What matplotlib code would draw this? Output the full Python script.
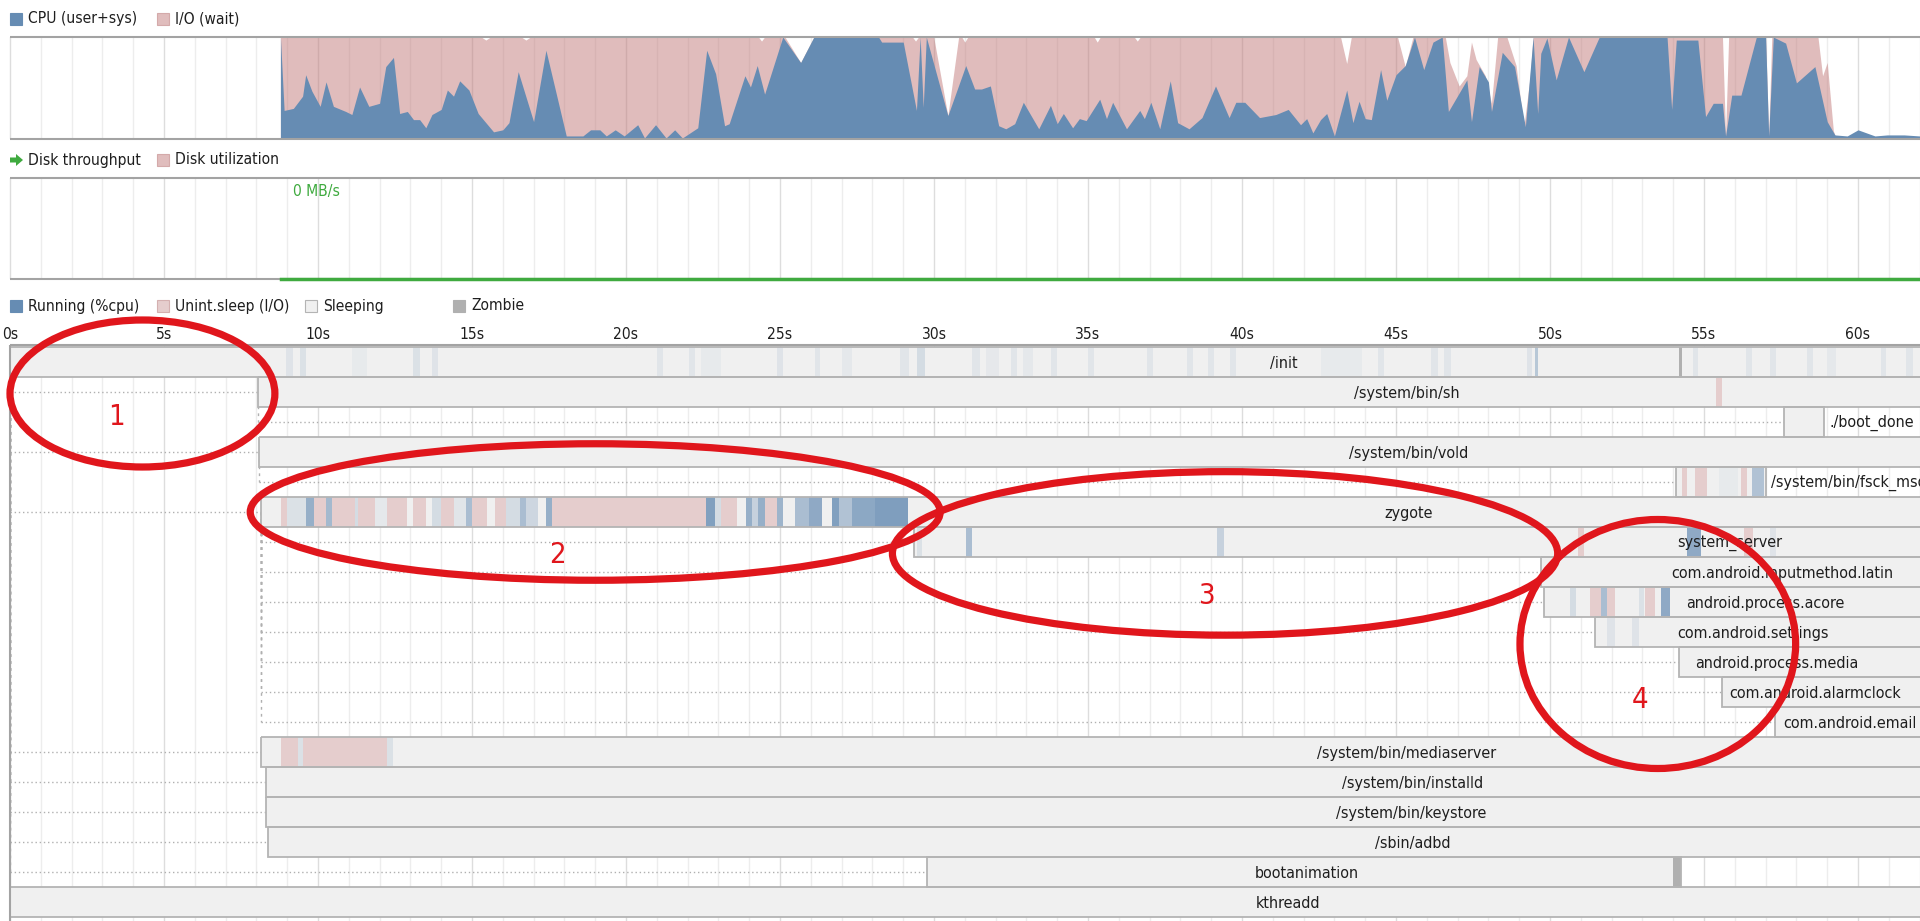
import numpy as np
import matplotlib
matplotlib.use("Agg")
import matplotlib.pyplot as plt
from matplotlib import font_manager
from matplotlib.patches import Rectangle, Ellipse, Polygon

# CPU (user+sys) in percent
cpu_t = [8.78, 8.9, 9.2, 9.5, 9.6, 9.8, 10.07, 10.26, 10.5, 10.9, 11.1, 11.35, 11.65, 12.0, 12.2, 12.45, 12.65, 12.9,
         13.1, 13.3, 13.5, 13.7, 14.0, 14.2, 14.4, 14.6, 14.9, 15.2, 15.7, 16.0, 16.2, 16.5, 17.0, 17.4,
         18.06, 18.6, 18.85, 19.15, 19.36, 19.65, 19.94, 20.38, 20.6, 20.96, 21.3, 21.58, 21.83, 22.33,
         22.62, 22.91, 23.2, 23.35, 23.86, 24.04, 24.26, 24.5, 25.09, 25.67, 26.1, 28.2, 28.3, 29.0, 29.43, 29.55, 29.65, 29.75,
         30.45, 31.03, 31.32, 31.54, 31.83, 32.1, 32.33, 32.62, 32.9, 33.4, 33.78, 34.0, 34.2, 34.5, 34.72, 34.94, 35.38, 35.6,
         35.8, 36.25, 36.68, 36.83,
         37.04, 37.33, 37.67, 37.91, 38.28, 38.7, 39.14, 39.58, 39.8, 40.09, 40.57, 41.1,
         41.5, 41.9, 42.1, 42.3, 42.55, 42.75, 43.0, 43.4, 43.6, 43.8, 44.0, 44.2, 44.5, 44.7, 45.0, 45.3, 45.6, 45.9, 46.2, 46.5,
         46.7, 47.3, 47.45, 47.7, 48.0, 48.1, 48.45, 48.85, 49.2, 49.45, 49.6, 49.7, 49.9, 50.2, 50.6, 51.1, 51.6, 53.8,
         53.95, 54.1, 54.8, 55.05, 55.3, 55.6, 55.7, 55.9, 56.2, 56.7, 57.0, 57.1, 57.25, 57.65, 58.0, 58.6, 59.0, 59.25,
         59.65, 60.0, 60.55, 60.95, 61.5, 62.0]
cpu_pct = [100, 28, 30, 42, 63, 47, 32, 56, 32, 27, 24, 51, 32, 35, 71, 80, 25, 27,
           19, 19, 11, 24, 29, 48, 42, 57, 48, 25, 7, 9, 16, 66, 17, 87,
           3, 3, 9, 9, 3, 9, 3, 14, 1, 14, 1, 9, 1, 11,
           87, 64, 13, 15, 62, 51, 72, 44, 100, 75, 100, 100, 95, 95, 28, 100, 31, 100,
           23, 72, 49, 49, 52, 13, 10, 15, 36, 10, 33, 15, 25, 11, 20, 18, 39, 20,
           36, 10, 28, 20,
           36, 10, 57, 16, 10, 21, 52, 21, 36, 36, 21, 24,
           29, 14, 20, 6, 19, 25, 3, 48, 16, 37, 20, 19, 68, 38, 63, 72, 100, 68, 95, 100,
           27, 58, 17, 71, 56, 27, 85, 71, 12, 100, 25, 84, 99, 58, 100, 66, 100, 100,
           29, 97, 97, 22, 35, 35, 3, 43, 43, 100, 100, 3, 100, 94, 55, 71, 17, 4,
           3, 9, 3, 4, 4, 3]

# CPU + I/O wait in percent
busy_t = [8.78, 15.3, 15.45, 15.6, 16.6, 16.75, 16.9, 24.3, 24.4, 24.5, 25.16, 25.67, 26.1,
          29.3, 29.4, 29.5, 29.99, 30.45, 30.8, 30.9, 31.0, 31.1, 35.2, 35.3, 35.4, 36.5, 36.6, 36.7,
          43.2, 43.4, 43.55, 45.05, 45.3, 45.55, 46.6, 46.75, 47.05, 47.3, 47.45, 47.6, 47.9, 48.1,
          48.3, 48.6, 48.9, 49.15, 49.35, 49.45, 52.85, 53.15, 53.45, 55.6, 55.7, 55.8, 57.0, 57.1, 57.2,
          58.7, 58.85, 59.0, 59.2, 59.3]
busy_pct = [100, 100, 97, 100, 100, 97, 100, 100, 96, 100, 100, 75, 100,
            100, 96, 100, 100, 23, 100, 100, 95, 100, 100, 95, 100, 100, 96, 100,
            100, 74, 100, 100, 71, 100, 100, 75, 52, 62, 95, 78, 62, 35,
            100, 100, 72, 12, 60, 100, 100, 67, 100, 100, 3, 100, 100, 3, 100,
            100, 62, 75, 8, 0]

# disk throughput (MB/s)
disk_t = [8.8, 62.0]
disk_mbps = [0.0, 0.0]

tick_secs = list(range(0, 61, 5))

procs = ["/init", "/system/bin/sh", "./boot_done", "/system/bin/vold", "/system/bin/fsck_msdos",
         "zygote", "system_server", "com.android.inputmethod.latin", "android.process.acore",
         "com.android.settings", "android.process.media", "com.android.alarmclock",
         "com.android.email", "/system/bin/mediaserver", "/system/bin/installd",
         "/system/bin/keystore", "/sbin/adbd", "bootanimation", "kthreadd"]
proc_start = [0.0, 8.04, 57.6, 8.1, 54.1, 8.15, 29.35, 49.7, 49.8, 51.45, 54.2, 55.6, 57.3,
              8.15, 8.3, 8.3, 8.37, 29.76, 0.0]
proc_end = [82.7, 82.7, 58.9, 82.7, 57.0, 82.7, 82.7, 82.7, 82.7, 82.7, 82.7, 82.7, 82.7,
            82.7, 82.7, 82.7, 82.7, 54.25, 82.7]
parent = [None, 0, 1, 0, 3, 0, 5, 5, 5, 5, 5, 5, 5, 0, 0, 0, 0, 0, None]
label_t = [41.35, 45.35, None, 45.4, None, 45.4, 55.85, 57.55, 57.0, 56.6, 57.35, 58.6, 59.75,
           45.35, 45.55, 45.5, 45.55, 42.1, 41.5]

# (row, from, to, cpu share) for running samples
running = [
    (0, 8.95, 9.2, .12), (0, 9.4, 9.6, .15), (0, 11.1, 11.6, .06), (0, 13.1, 13.3, .15), (0, 13.7, 13.9, .12),
    (0, 21.0, 21.2, .1), (0, 22.05, 22.25, .1), (0, 22.45, 23.1, .06), (0, 24.9, 25.1, .12), (0, 26.15, 26.3, .1),
    (0, 27.0, 27.35, .08), (0, 28.9, 29.2, .1), (0, 29.45, 29.7, .2), (0, 31.25, 31.5, .1), (0, 31.7, 32.1, .07),
    (0, 32.5, 32.7, .1), (0, 32.9, 33.2, .08), (0, 33.8, 34.0, .1), (0, 35.0, 35.2, .1), (0, 36.9, 37.1, .1),
    (0, 38.2, 38.4, .1), (0, 38.9, 39.1, .1), (0, 39.6, 39.8, .1), (0, 42.55, 43.9, .06), (0, 44.4, 44.6, .1),
    (0, 46.15, 46.35, .1), (0, 46.55, 46.8, .1), (0, 49.25, 49.4, .12), (0, 49.5, 49.6, .4), (0, 54.65, 54.8, .1),
    (0, 56.35, 56.55, .1), (0, 57.15, 57.35, .1), (0, 58.35, 58.55, .1), (0, 59.0, 59.3, .08), (0, 60.75, 60.9, .1),
    (0, 61.55, 61.8, .1),
    (4, 55.5, 56.1, .06), (4, 56.55, 56.95, .45),
    (5, 9.0, 9.6, .15), (5, 9.6, 9.87, .65), (5, 10.26, 10.46, .55), (5, 11.2, 11.3, .2), (5, 11.85, 12.25, .08),
    (5, 13.7, 14.0, .2), (5, 14.4, 14.8, .1), (5, 14.8, 15.0, .5), (5, 16.1, 16.55, .2), (5, 16.55, 16.75, .5),
    (5, 16.75, 17.15, .25), (5, 17.4, 17.6, .65), (5, 22.6, 22.9, .8), (5, 22.9, 23.1, .2), (5, 23.9, 24.1, .65),
    (5, 24.1, 24.3, .3), (5, 24.3, 24.5, .65), (5, 24.9, 25.1, .6), (5, 25.5, 25.95, .5), (5, 25.95, 26.35, .7),
    (5, 26.7, 26.9, .8), (5, 26.9, 27.35, .45), (5, 27.35, 28.1, .72), (5, 28.1, 29.15, .82),
    (6, 29.45, 29.6, .15), (6, 31.05, 31.25, .5), (6, 39.2, 39.4, .3), (6, 54.45, 54.9, .7), (6, 57.15, 57.35, .12),
    (8, 50.65, 50.85, .2), (8, 51.65, 51.85, .5), (8, 52.9, 53.05, .15), (8, 53.6, 53.9, .7),
    (9, 51.85, 52.1, .12), (9, 52.65, 52.9, .12),
    (13, 9.35, 9.5, .15), (13, 12.25, 12.45, .15),
]
# (row, from, to) for uninterruptible sleep
io_wait = [
    (1, 55.4, 55.6),
    (4, 54.3, 54.45), (4, 54.7, 55.1), (4, 56.2, 56.4),
    (5, 8.8, 9.0), (5, 9.87, 10.26), (5, 10.46, 11.2), (5, 11.3, 11.85), (5, 12.25, 12.9), (5, 13.1, 13.5),
    (5, 14.0, 14.4), (5, 15.0, 15.5), (5, 15.75, 16.1), (5, 17.6, 22.6), (5, 23.1, 23.6), (5, 24.5, 24.9),
    (6, 50.9, 51.1), (6, 56.3, 56.6),
    (8, 51.3, 51.65), (8, 51.85, 52.1), (8, 53.1, 53.4),
    (13, 8.8, 9.35), (13, 9.5, 12.25),
]
zombie = [(0, 54.2, 54.27), (17, 54.0, 54.25)]

# ---------------- styling ----------------
W, H = 1920, 921
PX_S = 30.8                     # pixels per second
X0 = 10                         # pixel of t = 0
t_lo, t_hi = -X0 / PX_S, (W - X0) / PX_S
ROW_TOP, ROW_H = 347, 30

CPU_BLUE = "#668cb3"
IO_PINK = (0.76, 0.48, 0.48)
UNINT = "#e5cdcd"
SLEEP = "#f0f0f0"
ZOMB = "#b0b0b0"
PBORDER = "#b4b4b4"
BORDER = "#a3a3a3"
GRID, GRID5 = "#ededed", "#dddddd"
DOT = "#b0b0b0"
GREEN = "#3faa3f"
TEXT = "#1e1e1e"
RED = "#e0161c"

ttf = font_manager.fontManager.ttflist
if any(f.name == "DejaVu Sans" and f.stretch == "condensed" for f in ttf):
    FONT = {"family": "DejaVu Sans", "stretch": "condensed"}
    FS_LBL, FS_LEG, FS_NUM = 11.5, 11.2, 21
elif any(f.name == "Liberation Sans Narrow" for f in ttf):
    FONT = {"family": "Liberation Sans Narrow"}
    FS_LBL, FS_LEG, FS_NUM = 12.5, 12, 22
else:
    FONT = {"family": "DejaVu Sans"}
    FS_LBL, FS_LEG, FS_NUM = 10, 10, 18

fig = plt.figure(figsize=(W / 100, H / 100), dpi=100)


def band(top, bottom):
    return [0, 1 - bottom / H, 1, (bottom - top) / H]


ax_cpu = fig.add_axes(band(37, 139))
ax_disk = fig.add_axes(band(178, 279))
ax_proc = fig.add_axes(band(345, H))

for ax in (ax_cpu, ax_disk, ax_proc):
    ax.set_xlim(t_lo, t_hi)
    ax.axis("off")
    for s in range(0, int(t_hi) + 1):
        ax.axvline(s, color=GRID5 if s % 5 == 0 else GRID, lw=1, zorder=0)

# CPU chart
ax_cpu.set_ylim(0, 100)
ax_cpu.fill_between(busy_t, busy_pct, color=IO_PINK, alpha=0.5, lw=0, zorder=1)
ax_cpu.fill_between(cpu_t, cpu_pct, color=CPU_BLUE, lw=0, zorder=2)
ax_cpu.hlines([0, 100], 0, t_hi, color=BORDER, lw=1.5, zorder=3, clip_on=False)

# disk chart
ax_disk.set_ylim(0, 1)
ax_disk.hlines([0, 1], 0, t_hi, color=BORDER, lw=1.5, zorder=3, clip_on=False)
ax_disk.plot(disk_t, disk_mbps, color=GREEN, lw=2.5, zorder=4, clip_on=False)
k = int(np.argmax(disk_mbps))
ax_disk.annotate(f"{max(disk_mbps):.0f} MB/s", (disk_t[k], 1), xytext=(12, -6),
                 textcoords="offset pixels", ha="left", va="top", color=GREEN,
                 fontsize=FS_LEG, **FONT)

# process chart
y_top = -0.5 - (ROW_TOP - 345) / ROW_H
y_bot = -0.5 + (H - ROW_TOP) / ROW_H
ax_proc.set_ylim(y_bot, y_top)
ax_proc.hlines(y_top, 0, t_hi, color=BORDER, lw=1.5, zorder=5, clip_on=False)
ax_proc.vlines(0, y_top, y_bot, color=BORDER, lw=1.5, zorder=5)

for i, p in enumerate(parent):
    if p is None:
        continue
    ax_proc.hlines(i, proc_start[p], proc_start[i], color=DOT, lw=1, linestyles=(0, (1, 2)), zorder=1)
    ax_proc.vlines(proc_start[p], p, i, color=DOT, lw=1, linestyles=(0, (2, 3)), zorder=1)

for i in range(len(procs)):
    ax_proc.add_patch(Rectangle((proc_start[i], i - 0.5), proc_end[i] - proc_start[i], 1,
                                facecolor=SLEEP, edgecolor="none", zorder=2))
for row, a, b, share in running:
    ax_proc.add_patch(Rectangle((a, row - 0.5), b - a, 1, facecolor=CPU_BLUE, alpha=share,
                                edgecolor="none", zorder=3))
for row, a, b in io_wait:
    ax_proc.add_patch(Rectangle((a, row - 0.5), b - a, 1, facecolor=UNINT, edgecolor="none", zorder=3))
for row, a, b in zombie:
    ax_proc.add_patch(Rectangle((a, row - 0.5), b - a, 1, facecolor=ZOMB, edgecolor="none", zorder=3))
for i in range(len(procs)):
    ax_proc.add_patch(Rectangle((proc_start[i], i - 0.5), proc_end[i] - proc_start[i], 1,
                                fill=False, edgecolor=PBORDER, lw=1.3, zorder=4))

for i, name in enumerate(procs):
    if label_t[i] is None:
        ax_proc.annotate(name, (proc_end[i], i), xytext=(5, -1), textcoords="offset pixels",
                         ha="left", va="center", color=TEXT, fontsize=FS_LBL, zorder=6, **FONT)
    else:
        ax_proc.text(label_t[i], i + 0.05, name, ha="center", va="center", color=TEXT,
                     fontsize=FS_LBL, zorder=6, **FONT)

time_row = -0.5 + (334 - ROW_TOP) / ROW_H
for s in tick_secs:
    ax_proc.text(s, time_row, f"{s}s", ha="center", va="center", color=TEXT,
                 fontsize=FS_LEG, **FONT)


# legends
def legend(y, items):
    for x, face, edge, label in items:
        fig.add_artist(Rectangle((x / W, 1 - (y + 6) / H), 12 / W, 12 / H, transform=fig.transFigure,
                                 facecolor=face, edgecolor=edge, lw=0.8))
        fig.text((x + 18) / W, 1 - y / H, label, ha="left", va="center", color=TEXT,
                 fontsize=FS_LEG, **FONT)


legend(19, [(10, CPU_BLUE, CPU_BLUE, "CPU (user+sys)"), (157, "#e0bdbd", "#d4aaaa", "I/O (wait)")])
legend(160, [(157, "#e0bdbd", "#d4aaaa", "Disk utilization")])
arrow_px = [(10, 157.5), (16, 157.5), (16, 154), (23, 160), (16, 166), (16, 162.5), (10, 162.5)]
fig.add_artist(Polygon([(x / W, 1 - y / H) for x, y in arrow_px], closed=True,
                       transform=fig.transFigure, facecolor=GREEN, edgecolor="none"))
fig.text(28 / W, 1 - 160 / H, "Disk throughput", ha="left", va="center", color=TEXT,
         fontsize=FS_LEG, **FONT)
legend(306, [(10, CPU_BLUE, CPU_BLUE, "Running (%cpu)"), (157, UNINT, "#d4b0b0", "Unint.sleep (I/O)"),
             (305, SLEEP, PBORDER, "Sleeping"), (453, ZOMB, ZOMB, "Zombie")])

# hand-drawn red highlights (time centre, row centre, width s, height rows) and their numbers
highlights = [(4.3, 1.05, 8.6, 4.9), (19.0, 5.0, 22.4, 4.55), (39.45, 6.38, 21.6, 5.45), (53.5, 9.4, 8.95, 8.3)]
for tc, rc, tw, rh in highlights:
    ax_proc.add_patch(Ellipse((tc, rc), tw, rh, fill=False, edgecolor=RED, lw=5.2, zorder=10, clip_on=False))
for num, (tn, rn) in zip("1234", [(3.44, 1.83), (17.76, 6.43), (38.83, 7.8), (52.92, 11.27)]):
    ax_proc.text(tn, rn, num, ha="center", va="center", color=RED, fontsize=FS_NUM, zorder=11, **FONT)

fig.savefig("out.png", dpi=100, facecolor="white")
